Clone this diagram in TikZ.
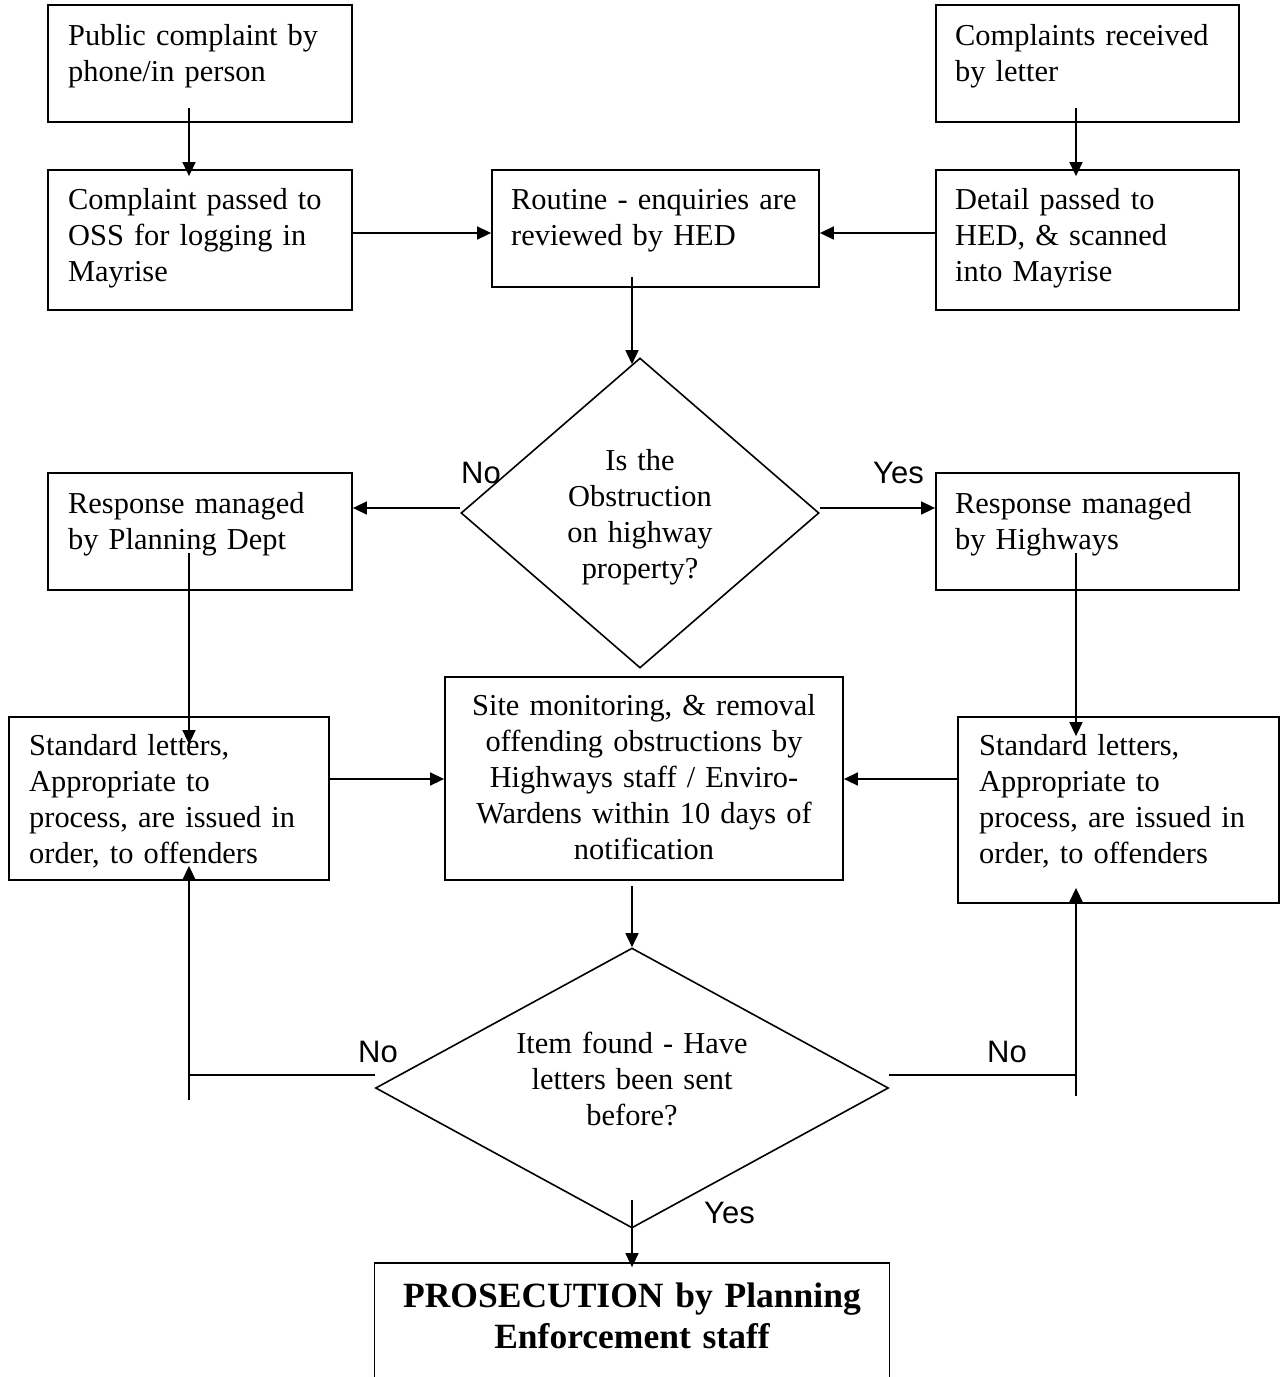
\documentclass[tikz,border=0pt]{standalone}
\usepackage{fontspec}
\setmainfont{Liberation Serif}
\newfontfamily\labelfont{Liberation Sans}
\usetikzlibrary{arrows.meta,calc,shapes.geometric}

\begin{document}
\begin{tikzpicture}[x=1pt,y=-1pt,
  box/.style={draw, line width=1.8pt, rectangle, inner sep=0pt},
  decide/.style={draw, line width=1.6pt, diamond, inner sep=0pt},
  body/.style={inner sep=0pt, text width=340pt, align=left, anchor=base west,
               font=\fontsize{30.4}{36}\selectfont},
  bodyc/.style={inner sep=0pt, text width=600pt, align=center, anchor=base,
                font=\fontsize{30.4}{36}\selectfont},
  ans/.style={inner sep=0pt, anchor=base west, font=\labelfont\fontsize{31}{36}\selectfont},
  arr/.style={line width=1.6pt, -{Triangle[length=14pt,width=13pt]}},
  link/.style={line width=1.6pt}
]
\path[use as bounding box, clip] (0,0) rectangle (1280,1377);
\fill[white] (0,0) rectangle (1280,1377);

% guide lines for the connectors
\coordinate (colL) at (189,0);
\coordinate (colM) at (632,0);
\coordinate (colR) at (1076,0);
\coordinate (rowA) at (0,233);
\coordinate (rowB) at (0,508);
\coordinate (rowC) at (0,779);
\coordinate (rowD) at (0,1075);

% boxes
\node[box, minimum width=304, minimum height=117] (a) at (200,63.5) {};
\node[box, minimum width=303, minimum height=117] (b) at (1087.5,63.5) {};
\node[box, minimum width=304, minimum height=140] (c) at (200,240) {};
\node[box, minimum width=327, minimum height=117] (d) at (655.5,228.5) {};
\node[box, minimum width=303, minimum height=140] (e) at (1087.5,240) {};
\node[box, minimum width=304, minimum height=117] (f) at (200,531.5) {};
\node[box, minimum width=303, minimum height=117] (g) at (1087.5,531.5) {};
\node[box, minimum width=320, minimum height=163] (h) at (169,798.5) {};
\node[box, minimum width=398, minimum height=203] (i) at (644,778.5) {};
\node[box, minimum width=321, minimum height=186] (j) at (1118.5,810) {};
\node[box, minimum width=515, minimum height=157] (k) at (632,1341.5) {};

% decisions
\node[decide, minimum width=358, minimum height=310] (q1) at (640,513) {};
\node[decide, minimum width=513, minimum height=280] (q2) at (632,1088) {};

% texts
\node[body] (ta) at (68,45) {Public complaint by\\phone/in person};
\node[body] (tb) at (955,45) {Complaints received\\by letter};
\node[body] (tc) at (68,209) {Complaint passed to\\OSS for logging in\\Mayrise};
\node[body] (td) at (511,209) {Routine - enquiries are\\reviewed by HED};
\node[body] (te) at (955,209) {Detail passed to\\HED, \& scanned\\into Mayrise};
\node[body] (tf) at (68,513) {Response managed\\by Planning Dept};
\node[body] (tg) at (955,513) {Response managed\\by Highways};
\node[body] (th) at (29,755) {Standard letters,\\Appropriate to\\process, are issued in\\order, to offenders};
\node[body] (tj) at (979,755) {Standard letters,\\Appropriate to\\process, are issued in\\order, to offenders};
\node[bodyc] (ti) at (644,715) {Site monitoring, \& removal\\offending obstructions by\\Highways staff / Enviro-\\Wardens within 10 days of\\notification};
\node[bodyc] (tq1) at (640,470) {Is the\\Obstruction\\on highway\\property?};
\node[bodyc] (tq2) at (632,1053) {Item found - Have\\letters been sent\\before?};
\node[bodyc, font=\bfseries\fontsize{35.5}{41}\selectfont] (tk) at (632,1307)
  {PROSECUTION by Planning\\Enforcement staff};

% answers
\node[ans] (no1) at (461,483) {No};
\node[ans] (yes1) at (873,483) {Yes};
\node[ans] (no2) at (358,1062) {No};
\node[ans] (no3) at (987,1062) {No};
\node[ans] (yes2) at (704,1223) {Yes};

% connectors
\draw[arr] ($(a.south -| colL)+(0,-15)$) -- ($(c.north -| colL)+(0,7)$);
\draw[arr] ($(b.south -| colR)+(0,-15)$) -- ($(e.north -| colR)+(0,7)$);
\draw[arr] (c.east |- rowA) -- (d.west |- rowA);
\draw[arr] (e.west |- rowA) -- (d.east |- rowA);
\draw[arr] ($(d.south -| colM)+(0,-11)$) -- ($(q1.north)+(-8,7)$);
\draw[arr] (q1.west |- rowB) -- (f.east |- rowB);
\draw[arr] (q1.east |- rowB) -- (g.west |- rowB);
\draw[arr] ($(f.south -| colL)+(0,-38)$) -- ($(h.north -| colL)+(0,28)$);
\draw[arr] ($(g.south -| colR)+(0,-38)$) -- ($(j.north -| colR)+(0,20)$);
\draw[arr] (h.east |- rowC) -- (i.west |- rowC);
\draw[arr] (j.west |- rowC) -- (i.east |- rowC);
\draw[arr] ($(i.south -| colM)+(0,5)$) -- (q2.north);
\draw[link] (q2.west |- rowD) -- (colL |- rowD);
\draw[arr] ($(colL |- rowD)+(0,25)$) -- ($(h.south -| colL)+(0,-15)$);
\draw[link] (q2.east |- rowD) -- (colR |- rowD);
\draw[arr] ($(colR |- rowD)+(0,21)$) -- ($(j.south -| colR)+(0,-16)$);
\draw[arr] ($(q2.south)+(0,-29)$) -- ($(k.north)+(0,5)$);
\end{tikzpicture}
\end{document}
